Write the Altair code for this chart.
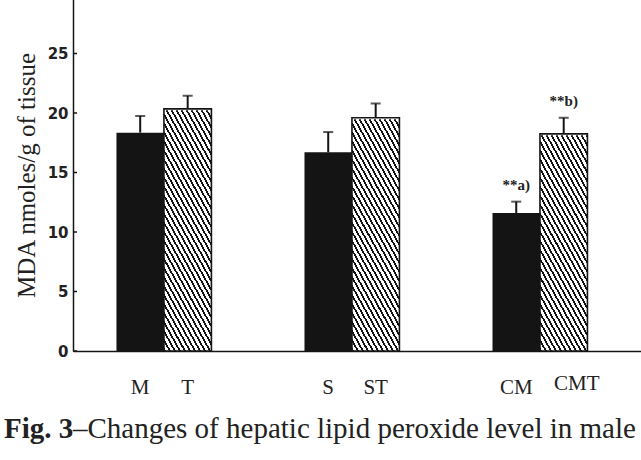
import altair as alt
import pandas as pd

# ---- data ----
groups = ["M-T", "S-ST", "CM-CMT"]
bar_labels = ["M", "T", "S", "ST", "CM", "CMT"]
bar_group = ["M-T", "M-T", "S-ST", "S-ST", "CM-CMT", "CM-CMT"]
bar_kind = ["solid", "hatched", "solid", "hatched", "solid", "hatched"]
means = [18.35, 20.35, 16.7, 19.6, 11.6, 18.25]
sems = [1.4, 1.1, 1.7, 1.2, 0.95, 1.35]
notes = ["", "", "", "", "**a)", "**b)"]
y_ticks = [0, 5, 10, 15, 20, 25, 30]
y_title = "MDA nmoles/g of tissue"
caption_bold = "Fig. 3"
caption_rest = "\u2013Changes of hepatic lipid peroxide level in male"

df = pd.DataFrame({"group": bar_group, "kind": bar_kind, "label": bar_labels,
                   "mean": means, "sem": sems, "note": notes})
df["top"] = df["mean"] + df["sem"]
df["ymax"] = y_ticks[-1]
ticks_df = pd.DataFrame({"v": y_ticks})

# ---- layout / style ----
W, H = 568, 357
INK = "#141414"

# diagonal hatch as a striped gradient (bbox of the full-height hatched bar)
bar_w, bar_h, slope, period_px, ink_frac = 47.5, H, 1.8, 5.0, 0.4
k = (slope * bar_w + bar_h) / (slope**2 * bar_w**2 + bar_h**2)
gx, gy = k * slope * bar_w, -k * bar_h
n_per = int(round((slope * bar_w + bar_h) / (slope * period_px)))
stops = []
for i in range(n_per):
    a = i / n_per
    b = (i + ink_frac) / n_per
    c = (i + 1) / n_per
    stops += [{"offset": a, "color": INK}, {"offset": b, "color": INK},
              {"offset": b, "color": "white"}, {"offset": c, "color": "white"}]
hatch = {"gradient": "linear", "x1": 0, "y1": 1, "x2": gx, "y2": 1 + gy, "stops": stops}

x_axis = alt.Axis(labels=False, ticks=False, title=None, domainColor=INK, domainWidth=1.5)
X = alt.X("group:N", sort=groups,
          scale=alt.Scale(paddingInner=0.495, paddingOuter=0.258, align=0.448),
          axis=x_axis)
XO = alt.XOffset("kind:N", sort=["solid", "hatched"],
                 scale=alt.Scale(paddingInner=0, paddingOuter=0))

y_axis = alt.Axis(values=y_ticks, ticks=False, grid=False, labelPadding=5,
                  labelFont="DejaVu Sans", labelFontWeight="bold", labelFontSize=15,
                  labelColor="#222", domainColor=INK, domainWidth=1.5,
                  title=y_title, titleFont="Liberation Serif", titleFontSize=25,
                  titleFontWeight="normal", titleColor="#222", titleX=-47, titleY=181,
                  titleAngle=270, titleBaseline="middle", titleAlign="center")
y_scale = alt.Scale(domain=[0, y_ticks[-1]], nice=False, zero=True)


def Y(field):
    return alt.Y(field, scale=y_scale, axis=y_axis)


base = alt.Chart(df)
solid = base.transform_filter("datum.kind == 'solid'")
hatched = base.transform_filter("datum.kind == 'hatched'")

solid_bars = solid.mark_bar(color=INK).encode(x=X, xOffset=XO, y=Y("mean:Q"))
hatch_full = hatched.mark_bar(fill=hatch).encode(x=X, xOffset=XO, y=Y("ymax:Q"))
hatch_cover = hatched.mark_bar(color="white", stroke="white", strokeWidth=3).encode(
    x=X, xOffset=XO, y=Y("mean:Q"), y2="ymax:Q")
hatch_outline = hatched.mark_bar(fillOpacity=0, stroke=INK, strokeWidth=1.6).encode(
    x=X, xOffset=XO, y=Y("mean:Q"))
err_rule = base.mark_rule(color=INK, strokeWidth=2).encode(
    x=X, xOffset=XO, y=Y("mean:Q"), y2="top:Q")
err_cap = base.mark_tick(color=INK, thickness=2, size=10, orient="horizontal").encode(
    x=X, xOffset=XO, y=Y("top:Q"))
note_text = base.transform_filter("datum.note != ''").mark_text(
    font="Liberation Serif", fontSize=15, fontWeight="bold", dy=-17,
    baseline="middle", color="#222").encode(x=X, xOffset=XO, y=Y("top:Q"), text="note:N")
x_labels = base.transform_filter("datum.label != 'CMT'").mark_text(
    font="Liberation Serif", fontSize=21, baseline="middle", color="#222").encode(
    x=X, xOffset=XO, y=alt.value(394), text="label:N")
x_label_cmt = base.transform_filter("datum.label == 'CMT'").mark_text(
    font="Liberation Serif", fontSize=21, baseline="middle", color="#222", dx=13).encode(
    x=X, xOffset=XO, y=alt.value(390), text="label:N")
y_tick_marks = alt.Chart(ticks_df).mark_rule(color=INK, strokeWidth=1.5).encode(
    y=Y("v:Q"), x=alt.value(0), x2=alt.value(4))

cap_df = pd.DataFrame({"bold": [caption_bold], "rest": [caption_rest]})
cap1 = alt.Chart(cap_df).mark_text(align="left", baseline="alphabetic",
                                    font="Liberation Serif", fontSize=29,
                                    fontWeight="bold", color="#222").encode(
    x=alt.value(-69), y=alt.value(444), text="bold:N")
cap2 = alt.Chart(cap_df).mark_text(align="left", baseline="alphabetic",
                                    font="Liberation Serif", fontSize=29,
                                    color="#222").encode(
    x=alt.value(0), y=alt.value(444), text="rest:N")

chart = alt.layer(
    hatch_full, hatch_cover, solid_bars, hatch_outline, err_rule, err_cap,
    note_text, x_labels, x_label_cmt, y_tick_marks, cap1, cap2
).properties(
    width=W, height=H,
    autosize=alt.AutoSizeParams(type="none"),
    padding={"left": 73, "top": -6, "right": 0, "bottom": 109},
    background="white",
).configure_view(strokeWidth=0)

chart.save("out.html", embed_options={"renderer": "svg", "actions": False})
